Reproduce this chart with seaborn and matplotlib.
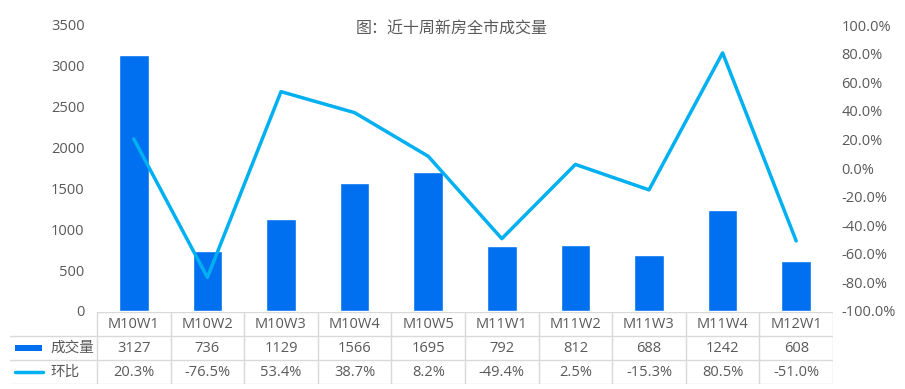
import numpy as np
import pandas as pd
import matplotlib
matplotlib.use('Agg')
import matplotlib.pyplot as plt
import seaborn as sns
from matplotlib.patches import Rectangle

weeks = ['M10W1', 'M10W2', 'M10W3', 'M10W4', 'M10W5',
         'M11W1', 'M11W2', 'M11W3', 'M11W4', 'M12W1']
volume = [3127, 736, 1129, 1566, 1695, 792, 812, 688, 1242, 608]
change = [20.3, -76.5, 53.4, 38.7, 8.2, -49.4, 2.5, -15.3, 80.5, -51.0]
series_names = ['成交量', '环比']
title = '图：近十周新房全市成交量'

bar_color = '#0070f0'
line_color = '#00b0f0'
text_color = '#595959'
grid_color = '#d9d9d9'

sns.set_theme(style='white')
plt.rcParams['font.family'] = ['Open Sans', 'Noto Sans CJK SC', 'DejaVu Sans']

df = pd.DataFrame({'week': weeks, 'volume': volume, 'change': change})
df['pos'] = np.arange(len(df))

fig = plt.figure(figsize=(9.05, 3.89), dpi=100)
W, H = 905, 389
ax = fig.add_axes([97 / W, 1 - 311 / H, (833 - 97) / W, (311 - 25) / H])

sns.barplot(data=df, x='pos', y='volume', ax=ax, color=bar_color,
            width=0.4, saturation=1, native_scale=False)
ax.set_xlim(-0.5, 9.5)
ax.set_ylim(0, 3500)
ax.set_yticks(range(0, 3501, 500))
ax.set_xticks([])
ax.set_xlabel('')
ax.set_ylabel('')
ax.tick_params(axis='y', colors=text_color, labelsize=10.5, length=0, pad=9)
for s in ax.spines.values():
    s.set_visible(False)

ax2 = ax.twinx()
sns.lineplot(data=df, x='pos', y='change', ax=ax2, color=line_color, linewidth=2.5)
ax2.set_xlim(-0.5, 9.5)
ax2.set_ylim(-100, 100)
ax2.set_yticks(range(-100, 101, 20))
ax2.set_yticklabels([f'{v:.1f}%' for v in range(-100, 101, 20)])
ax2.set_ylabel('')
ax2.tick_params(axis='y', colors=text_color, labelsize=10.5, length=0, pad=6)
for s in ax2.spines.values():
    s.set_visible(False)

fig.text(452 / W, 1 - 30 / H, title, ha='center', va='center',
         color=text_color, fontsize=11.5)

# data table below the plot
label_w = (97 - 10) / ((833 - 97) / 10)
tax = fig.add_axes([10 / W, 1 - 384 / H, (833 - 10) / W, (384 - 312) / H])
tax.set_xlim(-0.5 - label_w, 9.5)
tax.set_ylim(3, 0)
tax.axis('off')

tax.plot([-0.5, 9.5], [0, 0], color=grid_color, lw=1)
for y in [1, 2, 3]:
    tax.plot([-0.5 - label_w, 9.5], [y, y], color=grid_color, lw=1)
for x in np.arange(-0.5, 10, 1):
    tax.plot([x, x], [0, 3], color=grid_color, lw=1)

fs = 10.5
for i, w in enumerate(weeks):
    tax.text(i, 0.5, w, ha='center', va='center', color=text_color, fontsize=fs)
    tax.text(i, 1.5, f'{volume[i]}', ha='center', va='center', color=text_color, fontsize=fs)
    tax.text(i, 2.5, f'{change[i]:.1f}%', ha='center', va='center', color=text_color, fontsize=fs)

x0 = -0.5 - label_w
tax.add_patch(Rectangle((x0 + 0.07, 1.38), 0.37, 0.25, color=bar_color, lw=0))
tax.plot([x0 + 0.07, x0 + 0.45], [2.5, 2.5], color=line_color, lw=2.5)
tax.text(x0 + 0.55, 1.5, series_names[0], ha='left', va='center', color=text_color, fontsize=fs)
tax.text(x0 + 0.55, 2.5, series_names[1], ha='left', va='center', color=text_color, fontsize=fs)

fig.savefig('out.png', dpi=100)
